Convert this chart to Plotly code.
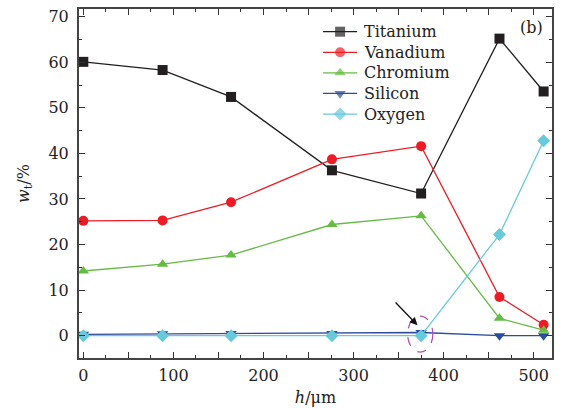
import plotly.graph_objects as go

h = [0, 88, 164, 276, 375, 462, 511]
titanium = [60.1, 58.3, 52.4, 36.3, 31.2, 65.2, 53.6]
vanadium = [25.2, 25.3, 29.3, 38.7, 41.6, 8.5, 2.4]
chromium = [14.2, 15.7, 17.7, 24.4, 26.3, 3.8, 1.2]
silicon = [0.3, 0.4, 0.5, 0.5, 0.7, 0.0, 0.0]
oxygen = [0.0, 0.0, 0.0, 0.0, 0.0, 22.2, 42.8]

names = ["Titanium", "Vanadium", "Chromium", "Silicon", "Oxygen"]
colors = ["#231f20", "#ed1c24", "#66bb44", "#2e4c9e", "#66cadb"]
symbols = ["square", "circle", "triangle-up", "triangle-down", "diamond"]
values = [titanium, vanadium, chromium, silicon, oxygen]

FONT = "DejaVu Serif, Liberation Serif, serif"
FS = 16

fig = go.Figure()
for name, vals, col, sym in zip(names, values, colors, symbols):
    fig.add_trace(go.Scatter(
        x=h, y=vals, name=name, mode="lines+markers", showlegend=False,
        line=dict(color=col, width=1.3),
        marker=dict(symbol=sym, size=10, color=col, line=dict(width=0)),
    ))

# custom legend drawn on an overlay unit axis
leg_x0, leg_x1, leg_text = 0.516, 0.588, 0.598
leg_top, leg_step = 0.935, 0.059
for i, (name, col, sym) in enumerate(zip(names, colors, symbols)):
    yy = leg_top - i * leg_step
    fig.add_trace(go.Scatter(
        x=[leg_x0, (leg_x0 + leg_x1) / 2, leg_x1], y=[yy, yy, yy],
        xaxis="x2", yaxis="y2", mode="lines+markers", showlegend=False, hoverinfo="skip",
        line=dict(color=col, width=1.3),
        marker=dict(symbol=sym, size=[0, 10, 0], color=col, line=dict(width=0)),
    ))
    fig.add_annotation(x=leg_text, y=yy, xref="x2", yref="y2", text=name, showarrow=False,
                       xanchor="left", yanchor="middle", font=dict(size=FS, family=FONT))

xt = list(range(0, 501, 50))
yt = list(range(0, 71, 10))

fig.update_layout(
    width=566, height=409,
    margin=dict(l=79, r=14, t=9, b=51),
    paper_bgcolor="white", plot_bgcolor="white",
    font=dict(family=FONT, size=FS, color="#222"),
    showlegend=False,
    xaxis=dict(
        range=[-4.8, 520.3], automargin=False,
        tickvals=xt, ticktext=[str(v) if v % 100 == 0 else "" for v in xt],
        ticks="inside", ticklen=6, tickwidth=1.2, tickcolor="#333",
        minor=dict(tickvals=list(range(25, 520, 50)), ticks="inside", ticklen=3, tickcolor="#333"),
        showline=True, linecolor="#444", linewidth=2, mirror="ticks",
        showgrid=False, zeroline=False, ticklabelstandoff=2,
        title=dict(text="<i>h</i>/μm", standoff=8, font=dict(size=FS)),
    ),
    yaxis=dict(
        range=[-4.9, 71.7], automargin=False,
        tickvals=yt,
        ticks="inside", ticklen=6, tickwidth=1.2, tickcolor="#333",
        minor=dict(tickvals=list(range(5, 71, 10)), ticks="inside", ticklen=3, tickcolor="#333"),
        showline=True, linecolor="#444", linewidth=2, mirror="ticks",
        showgrid=False, zeroline=False, ticklabelstandoff=5,
        title=dict(text="<i>w</i><sub>t</sub>/%", standoff=15, font=dict(size=FS)),
    ),
    xaxis2=dict(overlaying="x", range=[0, 1], visible=False, fixedrange=True),
    yaxis2=dict(overlaying="y", range=[0, 1], visible=False, fixedrange=True),
)

fig.add_shape(type="circle", xref="x", yref="y", x0=360, x1=388, y0=-3.6, y1=4.3,
              line=dict(color="#b04fb0", width=1.2, dash="dash"), layer="above")
fig.add_annotation(x=371, y=2.3, ax=345, ay=7.6, axref="x", ayref="y", xref="x", yref="y",
                   text="", showarrow=True, arrowhead=2, arrowsize=1.2, arrowwidth=1.3,
                   arrowcolor="#111", standoff=0)
fig.add_annotation(x=0.985, y=0.98, xref="paper", yref="paper", text="(b)",
                   showarrow=False, xanchor="right", yanchor="top", font=dict(size=FS, family=FONT))

fig.write_html("out.html")
